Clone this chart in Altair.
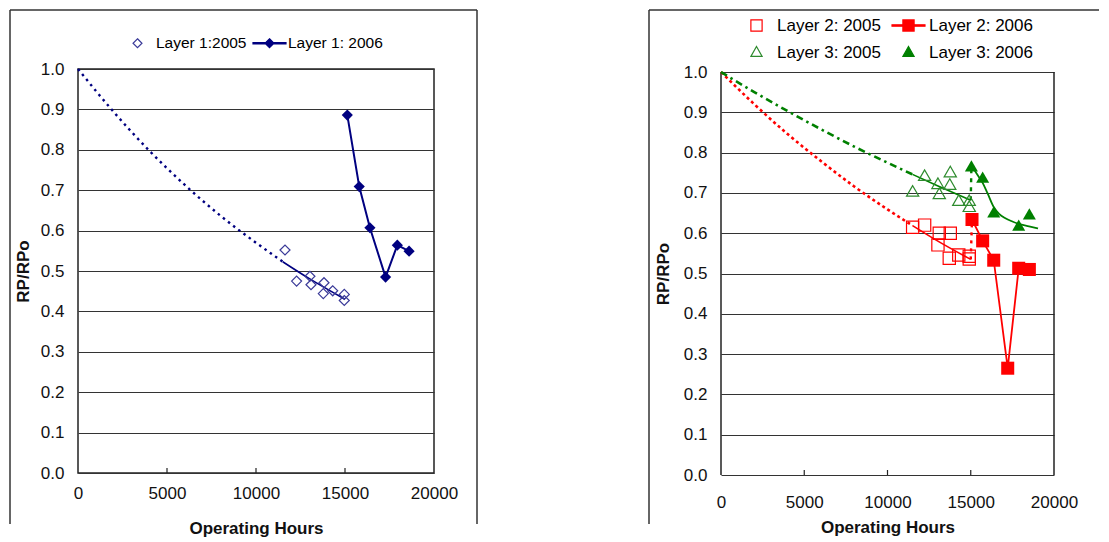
import altair as alt
import pandas as pd

FONT = "Liberation Sans"
NAVY = "#000080"
NAVY_OPEN = "#3a3a98"
RED = "#ff0000"
GREEN = "#008000"
GREEN_OPEN = "#2e8b2e"
GRID = "#333333"

# ---------------- data ----------------
x_ticks = [0, 5000, 10000, 15000, 20000]
y_ticks = [0.0, 0.1, 0.2, 0.3, 0.4, 0.5, 0.6, 0.7, 0.8, 0.9, 1.0]
inner_ticks = [5000, 10000, 15000]
border_hours = [0, 20000]

# Left panel - Layer 1
l1_2005_hours = [11630, 12280, 13030, 13090, 13820, 13780, 14310, 14960, 14960]
l1_2005_ratio = [0.552, 0.475, 0.487, 0.466, 0.471, 0.444, 0.451, 0.442, 0.427]
l1_2006_hours = [15130, 15800, 16400, 17280, 17940, 18600]
l1_2006_ratio = [0.886, 0.709, 0.607, 0.485, 0.564, 0.549]
l1_trend_hours = [0, 2000, 4000, 6000, 8000, 10000, 11500, 13000, 15000]
l1_trend_ratio = [1.0, 0.894, 0.798, 0.713, 0.637, 0.570, 0.523, 0.481, 0.430]

# Right panel - Layers 2 and 3
l2_2005_hours = [11510, 12230, 13110, 13770, 13030, 13710, 14280, 14910, 14910]
l2_2005_ratio = [0.615, 0.620, 0.600, 0.600, 0.571, 0.538, 0.546, 0.543, 0.536]
l2_2006_hours = [15075, 15715, 16380, 17220, 17880, 18520]
l2_2006_ratio = [0.634, 0.581, 0.533, 0.265, 0.513, 0.510]
l3_2005_hours = [11510, 12230, 13030, 13770, 13740, 13110, 14280, 14910, 14910]
l3_2005_ratio = [0.705, 0.744, 0.724, 0.753, 0.722, 0.699, 0.682, 0.682, 0.667]
l3_2006_hours = [15040, 15715, 16380, 17880, 18520]
l3_2006_ratio = [0.767, 0.739, 0.653, 0.620, 0.648]

trend_hours = [0, 2000, 4000, 6000, 8000, 10000, 11500, 13000, 15000]
l2_trend_ratio = [1.0, 0.920, 0.846, 0.779, 0.716, 0.659, 0.619, 0.581, 0.535]
l3_trend_ratio = [1.0, 0.950, 0.903, 0.858, 0.815, 0.775, 0.746, 0.718, 0.682]
l2_link_hours = [15000, 15075]
l2_link_ratio = [0.535, 0.634]
l3_link_hours = [15000, 15040]
l3_link_ratio = [0.682, 0.767]
l3_2006_trend_hours = [15100, 15400, 15715, 16000, 16380, 16700, 17080, 17500, 17880, 18500, 19040]
l3_2006_trend_ratio = [0.765, 0.745, 0.725, 0.700, 0.665, 0.648, 0.637, 0.629, 0.623, 0.617, 0.612]

left_legend = ["Layer 1:2005", "Layer 1: 2006"]
right_legend = ["Layer 2: 2005", "Layer 2: 2006", "Layer 3: 2005", "Layer 3: 2006"]

# legend symbol paths (unit = half of sqrt(symbolSize))
P_DIAMOND = "M0,-0.27L0.27,0L0,0.27L-0.27,0Z"
P_LINE_DIAMOND = "M-1,-0.045H1V0.045H-1Z M0,-0.27L0.27,0L0,0.27L-0.27,0Z"
P_SQUARE = "M-0.34,-0.34H0.34V0.34H-0.34Z"
P_LINE_SQUARE = "M-1,-0.045H1V0.045H-1Z M-0.34,-0.34H0.34V0.34H-0.34Z"
P_TRIANGLE = "M0,-0.36L0.34,0.24L-0.34,0.24Z"


def df(h, r):
    return pd.DataFrame({"hours": h, "ratio": r})


def encodings(y_range, label_pad, title_pad, y_title_pad):
    x = alt.X("hours:Q",
              scale=alt.Scale(domain=[0, 20000], nice=False, zero=False),
              axis=alt.Axis(values=x_ticks, format="d", title="Operating Hours",
                            grid=False, ticks=False, domain=False, labelFlush=False,
                            labelPadding=label_pad, titlePadding=title_pad))
    y = alt.Y("ratio:Q",
              scale=alt.Scale(domain=[0, 1], nice=False, range=y_range),
              axis=alt.Axis(values=y_ticks, format=".1f", title="RP/RPo",
                            grid=True, ticks=False, domain=False, labelFlush=False,
                            labelPadding=14, titlePadding=y_title_pad))
    return x, y


def frame(left, right, top, bottom, with_right=True):
    one = pd.DataFrame({"k": [0]})
    base = alt.Chart(one).mark_rule(color="#333333", strokeWidth=1.5)
    parts = [
        base.encode(x=alt.value(left), y=alt.value(top), y2=alt.value(bottom)),
        base.encode(x=alt.value(left), x2=alt.value(right), y=alt.value(top)),
    ]
    if with_right:
        parts.append(base.encode(x=alt.value(right), y=alt.value(top), y2=alt.value(bottom)))
    return parts


def legend_layer(field, domain, shapes, strokes, fills, lx, ly, fsize, colpad, loffset):
    leg = alt.Legend(title=None, orient="none", legendX=lx, legendY=ly,
                     direction="horizontal", columns=2, symbolSize=1089,
                     clipHeight=16, labelFont=FONT, labelFontSize=fsize,
                     labelColor="black", labelOffset=loffset, columnPadding=colpad,
                     rowPadding=10, padding=0, symbolStrokeWidth=1.2, labelLimit=0)
    data = pd.DataFrame({field: domain})
    return alt.Chart(data).transform_filter("false").mark_point(
        filled=True, opacity=1).encode(
        shape=alt.Shape(f"{field}:N", scale=alt.Scale(domain=domain, range=shapes), legend=leg),
        stroke=alt.Stroke(f"{field}:N", scale=alt.Scale(domain=domain, range=strokes), legend=leg),
        fill=alt.Fill(f"{field}:N", scale=alt.Scale(domain=domain, range=fills), legend=leg),
    )


# ---------------- left panel ----------------
LW, LH = 356, 404
x, y = encodings([LH, 0], 12.5, 18.5, 8)
t1 = df(l1_trend_hours, l1_trend_ratio)
left_layers = frame(-68, 399, -59, 455) + [
    alt.Chart(t1).transform_filter("datum.hours <= 11500").mark_line(
        color=NAVY, strokeWidth=2.4, strokeDash=[2.5, 4], interpolate="monotone").encode(x=x, y=y),
    alt.Chart(t1).transform_filter("datum.hours >= 11500").mark_line(
        color=NAVY, strokeWidth=1.6, interpolate="monotone").encode(x=x, y=y),
    alt.Chart(df(l1_2005_hours, l1_2005_ratio)).mark_point(
        shape="diamond", filled=False, color=NAVY_OPEN, size=100, strokeWidth=1.2, opacity=1).encode(x=x, y=y),
    alt.Chart(df(l1_2006_hours, l1_2006_ratio)).mark_line(
        color=NAVY, strokeWidth=2).encode(x=x, y=y),
    alt.Chart(df(l1_2006_hours, l1_2006_ratio)).mark_point(
        shape="diamond", filled=True, color=NAVY, size=125, opacity=1).encode(x=x, y=y),
    alt.Chart(pd.DataFrame({"hours": inner_ticks})).mark_rule(color="#222222", strokeWidth=1.2).encode(
        x=x, y=alt.value(LH), y2=alt.value(LH - 5)),
    legend_layer("series_left", left_legend, [P_DIAMOND, P_LINE_DIAMOND], [NAVY_OPEN, NAVY],
                 ["white", NAVY], 42, -34, 15.5, 5, 1),
]
left = alt.layer(*left_layers).properties(width=LW, height=LH)

# ---------------- right panel ----------------
# the right plot box starts 3 px lower than the left one
RW, RH = 333, 406
x, y = encodings([RH, 3], 19.5, 9, 11)
t2 = df(trend_hours, l2_trend_ratio)
t3 = df(trend_hours, l3_trend_ratio)
right_layers = frame(-72, 378, -59, 455, with_right=False) + [
    alt.Chart(pd.DataFrame({"hours": border_hours})).mark_rule(color="#222222", strokeWidth=1.5).encode(
        x=x, y=alt.datum(0), y2=alt.datum(1)),
    alt.Chart(t2).transform_filter("datum.hours <= 11500").mark_line(
        color=RED, strokeWidth=2.6, strokeDash=[3, 3], interpolate="monotone").encode(x=x, y=y),
    alt.Chart(t2).transform_filter("datum.hours >= 11500").mark_line(
        color=RED, strokeWidth=1.6, interpolate="monotone").encode(x=x, y=y),
    alt.Chart(df(l2_link_hours, l2_link_ratio)).mark_line(
        color=RED, strokeWidth=2.4, strokeDash=[3, 5]).encode(x=x, y=y),
    alt.Chart(t3).transform_filter("datum.hours <= 11500").mark_line(
        color=GREEN, strokeWidth=2.6, strokeDash=[7, 4, 2.5, 4], interpolate="monotone").encode(x=x, y=y),
    alt.Chart(t3).transform_filter("datum.hours >= 11500").mark_line(
        color=GREEN, strokeWidth=1.6, interpolate="monotone").encode(x=x, y=y),
    alt.Chart(df(l3_link_hours, l3_link_ratio)).mark_line(
        color=GREEN, strokeWidth=2.4, strokeDash=[4, 5]).encode(x=x, y=y),
    alt.Chart(df(l3_2006_trend_hours, l3_2006_trend_ratio)).mark_line(
        color=GREEN, strokeWidth=1.8, interpolate="monotone").encode(x=x, y=y),
    alt.Chart(df(l2_2005_hours, l2_2005_ratio)).mark_point(
        shape="square", filled=False, color=RED, size=150, strokeWidth=1.2, opacity=1).encode(x=x, y=y),
    alt.Chart(df(l3_2005_hours, l3_2005_ratio)).mark_point(
        shape="triangle-up", filled=False, color=GREEN_OPEN, size=150, strokeWidth=1.2, opacity=1).encode(x=x, y=y),
    alt.Chart(df(l2_2006_hours, l2_2006_ratio)).mark_line(
        color=RED, strokeWidth=1.8).encode(x=x, y=y),
    alt.Chart(df(l2_2006_hours, l2_2006_ratio)).mark_point(
        shape="square", filled=True, color=RED, size=170, opacity=1).encode(x=x, y=y),
    alt.Chart(df(l3_2006_hours, l3_2006_ratio)).mark_point(
        shape="triangle-up", filled=True, color=GREEN, size=170, opacity=1).encode(x=x, y=y),
    alt.Chart(pd.DataFrame({"hours": inner_ticks})).mark_rule(color="#222222", strokeWidth=1.2).encode(
        x=x, y=alt.value(RH), y2=alt.value(RH - 5)),
    legend_layer("series_right", right_legend, [P_SQUARE, P_LINE_SQUARE, P_TRIANGLE, P_TRIANGLE],
                 [RED, RED, GREEN_OPEN, GREEN], ["white", RED, "white", GREEN],
                 18, -51.5, 17, 10, 3),
]
right = alt.layer(*right_layers).properties(
    width=RW, height=RH, view=alt.ViewBackground(stroke="transparent"))

chart = alt.concat(left, right, columns=2, spacing=168, align="none").resolve_scale(
    shape="independent", stroke="independent", fill="independent"
).resolve_legend(
    shape="independent", stroke="independent", fill="independent"
).properties(padding=0).configure_view(
    stroke="#222222", strokeWidth=1.5
).configure_axis(
    labelFont=FONT, labelFontSize=17, labelColor="#111111",
    titleFont=FONT, titleFontSize=17, titleFontWeight="bold", titleColor="#111111",
    gridColor=GRID, gridWidth=1.2, gridOpacity=1
)

chart.save("out.html", embed_options={"renderer": "svg", "actions": False})
